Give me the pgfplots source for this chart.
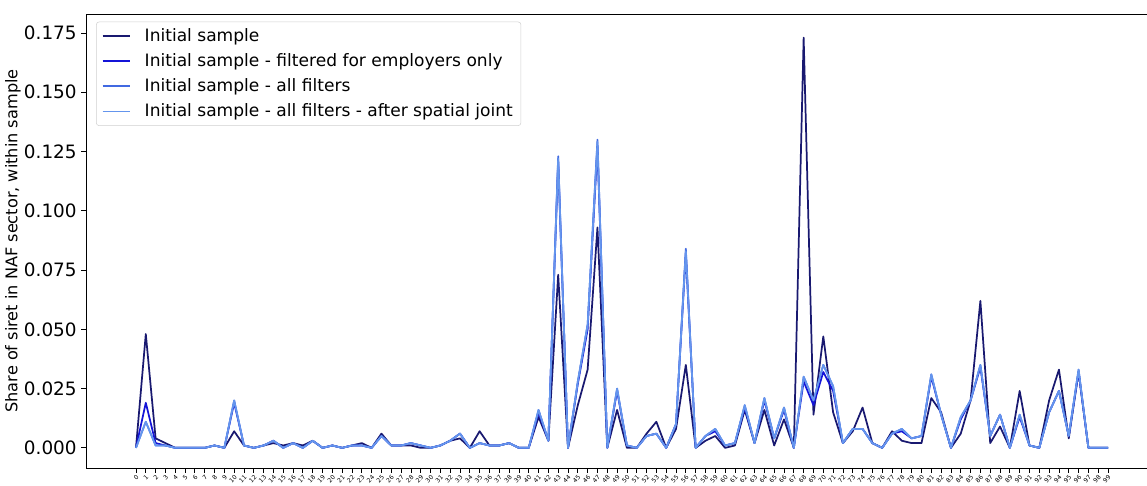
\documentclass[border=0pt]{standalone}
\usepackage{fontspec}
\setmainfont{DejaVu Sans}
\usepackage{pgfplots}
\usepackage{pgfplotstable}
\pgfplotsset{compat=1.18}

\definecolor{sInit}{RGB}{25,25,112}
\definecolor{sEmpl}{RGB}{20,20,215}
\definecolor{sAll}{RGB}{65,105,225}
\definecolor{sSpat}{RGB}{100,149,237}

% x: NAF division, a: initial, b: employers only, c: all filters, d: after spatial joint
\pgfplotstableread{
x a b c d
0 0.000 0.000 0.000 0.000
1 0.048 0.019 0.011 0.011
2 0.004 0.002 0.001 0.001
3 0.002 0.001 0.001 0.001
4 0.000 0.000 0.000 0.000
5 0.000 0.000 0.000 0.000
6 0.000 0.000 0.000 0.000
7 0.000 0.000 0.000 0.000
8 0.001 0.001 0.001 0.001
9 0.000 0.000 0.000 0.000
10 0.007 0.019 0.020 0.020
11 0.001 0.001 0.001 0.001
12 0.000 0.000 0.000 0.000
13 0.001 0.001 0.001 0.001
14 0.002 0.003 0.003 0.003
15 0.001 0.000 0.000 0.000
16 0.002 0.002 0.002 0.002
17 0.001 0.000 0.000 0.000
18 0.003 0.003 0.003 0.003
19 0.000 0.000 0.000 0.000
20 0.001 0.001 0.001 0.001
21 0.000 0.000 0.000 0.000
22 0.001 0.001 0.001 0.001
23 0.002 0.001 0.001 0.001
24 0.000 0.000 0.000 0.000
25 0.006 0.005 0.005 0.005
26 0.001 0.001 0.001 0.001
27 0.001 0.001 0.001 0.001
28 0.001 0.002 0.002 0.002
29 0.000 0.001 0.001 0.001
30 0.000 0.000 0.000 0.000
31 0.001 0.001 0.001 0.001
32 0.003 0.003 0.003 0.003
33 0.004 0.006 0.006 0.006
34 0.000 0.000 0.000 0.000
35 0.007 0.002 0.002 0.002
36 0.001 0.001 0.001 0.001
37 0.001 0.001 0.001 0.001
38 0.002 0.002 0.002 0.002
39 0.000 0.000 0.000 0.000
40 0.000 0.000 0.000 0.000
41 0.013 0.015 0.016 0.016
42 0.003 0.003 0.003 0.003
43 0.073 0.121 0.123 0.122
44 0.000 0.000 0.000 0.000
45 0.018 0.027 0.028 0.028
46 0.033 0.050 0.052 0.052
47 0.093 0.127 0.130 0.129
48 0.000 0.000 0.000 0.000
49 0.016 0.024 0.025 0.025
50 0.000 0.001 0.001 0.001
51 0.000 0.000 0.000 0.000
52 0.006 0.005 0.005 0.005
53 0.011 0.006 0.006 0.006
54 0.000 0.000 0.000 0.000
55 0.008 0.010 0.010 0.010
56 0.035 0.082 0.084 0.083
57 0.000 0.000 0.000 0.000
58 0.003 0.005 0.005 0.005
59 0.005 0.007 0.008 0.008
60 0.000 0.001 0.001 0.001
61 0.001 0.002 0.002 0.002
62 0.016 0.017 0.018 0.018
63 0.002 0.002 0.002 0.002
64 0.016 0.020 0.021 0.021
65 0.001 0.004 0.004 0.004
66 0.012 0.016 0.017 0.017
67 0.000 0.000 0.000 0.000
68 0.173 0.028 0.030 0.030
69 0.014 0.018 0.020 0.020
70 0.047 0.032 0.035 0.035
71 0.015 0.024 0.026 0.026
72 0.002 0.002 0.002 0.002
73 0.007 0.008 0.008 0.008
74 0.017 0.008 0.008 0.008
75 0.002 0.002 0.002 0.002
76 0.000 0.000 0.000 0.000
77 0.007 0.006 0.006 0.006
78 0.003 0.007 0.008 0.008
79 0.002 0.004 0.004 0.004
80 0.002 0.005 0.005 0.005
81 0.021 0.030 0.031 0.031
82 0.015 0.014 0.014 0.014
83 0.000 0.000 0.000 0.000
84 0.006 0.012 0.013 0.013
85 0.020 0.020 0.020 0.020
86 0.062 0.034 0.035 0.035
87 0.002 0.005 0.005 0.005
88 0.009 0.014 0.014 0.014
89 0.000 0.000 0.000 0.000
90 0.024 0.013 0.014 0.014
91 0.001 0.001 0.001 0.001
92 0.000 0.000 0.000 0.000
93 0.020 0.015 0.015 0.015
94 0.033 0.024 0.024 0.024
95 0.004 0.005 0.005 0.005
96 0.032 0.032 0.033 0.033
97 0.000 0.000 0.000 0.000
98 0.000 0.000 0.000 0.000
99 0.000 0.000 0.000 0.000
}\naf

\begin{document}
\begin{tikzpicture}
\begin{axis}[
  name=ax,
  scale only axis,
  width=795.75pt, height=340.5pt,
  xmin=-5.09, xmax=102.97, ymin=-0.0085, ymax=0.183,
  xtick={0,...,99},
  xticklabel style={font=\fontsize{4.6}{5}\selectfont, rotate=45, anchor=north east, inner sep=1pt},
  ytick={0,0.025,...,0.175},
  yticklabel style={font=\fontsize{13.8}{13.8}\selectfont,
    /pgf/number format/.cd, fixed, fixed zerofill, precision=3},
  /pgf/number format/assume math mode=true,
  tick align=outside, xtick pos=bottom, ytick pos=left,
  major tick length=3.5pt,
  tick style={black, line width=0.6pt},
  axis line style={black, line width=0.6pt},
  ylabel={Share of siret in NAF sector, within sample},
  ylabel style={font=\fontsize{12.1}{12.1}\selectfont},
  ylabel shift=-4.5pt,
  legend cell align=left,
  legend style={at={(0.0095,0.983)}, anchor=north west, font=\fontsize{12.8}{14}\selectfont,
    draw=black!18, rounded corners=2pt, inner xsep=4pt, inner ysep=3pt,
    row sep=3.6pt, column sep=8.5pt},
  legend image post style={xscale=1.2},
  every axis plot/.append style={line width=1.3pt, line join=round},
]
\addplot[sInit] table[x=x, y=a] {\naf};
\addplot[sEmpl] table[x=x, y=b] {\naf};
\addplot[sAll] table[x=x, y=c] {\naf};
\addplot[sSpat] table[x=x, y=d] {\naf};
\legend{Initial sample, Initial sample - filtered for employers only, Initial sample - all filters, Initial sample - all filters - after spatial joint}
\end{axis}
\pgfresetboundingbox
\path ([xshift=-64.5pt, yshift=-12.75pt]ax.south west) rectangle ([yshift=10.5pt]ax.north east);
\end{tikzpicture}
\end{document}
